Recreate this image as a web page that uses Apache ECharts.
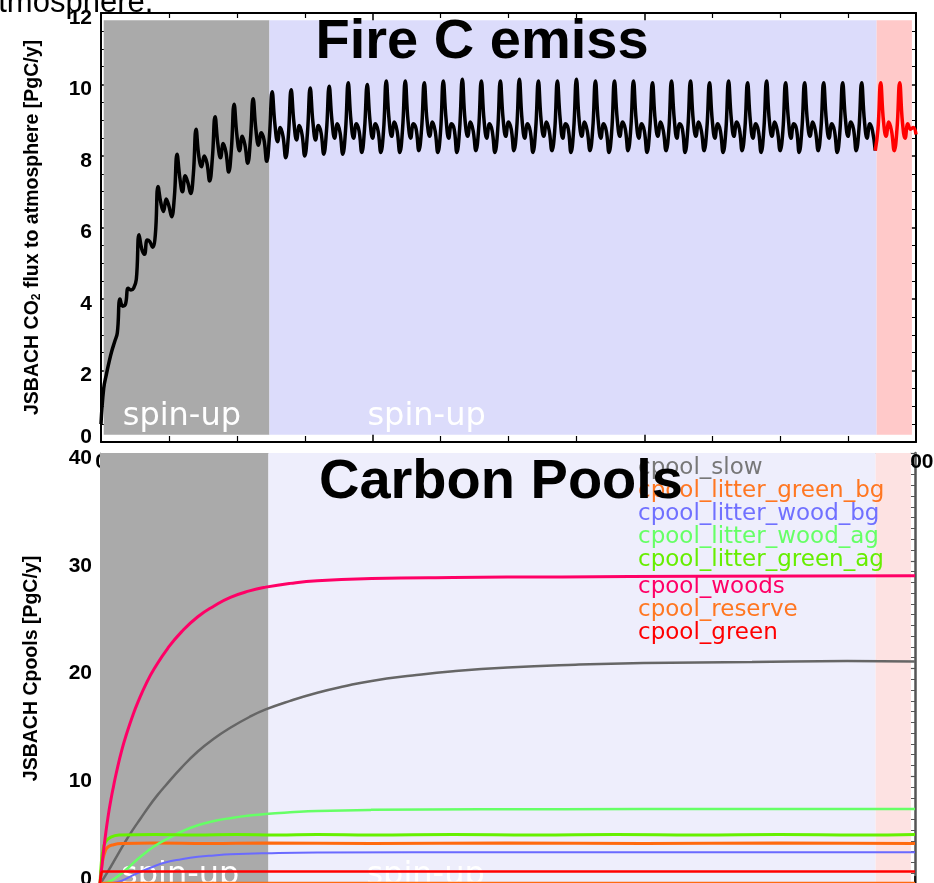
<!DOCTYPE html>
<html>
<head>
<meta charset="utf-8">
<style>
  html, body { margin: 0; padding: 0; background: #fff; }
  #chart { width: 934px; height: 883px; }
</style>
<script src="https://cdn.jsdelivr.net/npm/echarts@6/dist/echarts.min.js"></script>
</head>
<body>
<div id="chart"></div>
<script>
// ============================================
// DATA
// ============================================

// Fire C emission, one value per model year (0..300), PgC/y
const fireEmiss = [
    0.5, 1.5, 1.9, 2.25, 2.55, 2.8, 3.05,
    4.0, 3.8, 3.85, 4.3, 4.25, 4.3, 4.55,
    5.8, 5.4, 5.25, 5.65, 5.6, 5.45, 5.8,
    7.15, 6.7, 6.45, 6.8, 6.6, 6.3, 6.85,
    8.05, 7.4, 7.0, 7.45, 7.25, 6.95, 7.5,
    8.75, 8.0, 7.7, 8.0, 7.8, 7.3, 7.95,
    9.1, 8.35, 7.95, 8.35, 8.1, 7.55, 8.2,
    9.45, 8.6, 8.15, 8.55, 8.3, 7.8, 8.45,
    9.6, 8.75, 8.3, 8.65, 8.45, 7.85, 8.55,
    9.8, 8.9, 8.4, 8.8, 8.55, 7.95, 8.6,
    9.85, 8.95, 8.45, 8.85, 8.6, 8.0, 8.65,
    9.9, 8.95, 8.45, 8.85, 8.65, 8.05, 8.7,
    9.95, 9.0, 8.5, 8.9, 8.65, 8.05, 8.7,
    10.05, 9.0, 8.5, 8.9, 8.7, 8.1, 8.75,
    10.0, 9.0, 8.5, 8.9, 8.7, 8.1, 8.7,
    10.1, 9.05, 8.55, 8.95, 8.7, 8.1, 8.75,
    10.1, 9.0, 8.5, 8.9, 8.75, 8.15, 8.75,
    10.05, 9.0, 8.55, 8.95, 8.7, 8.1, 8.7,
    10.1, 9.05, 8.5, 8.9, 8.75, 8.1, 8.75,
    10.15, 9.0, 8.55, 8.95, 8.7, 8.15, 8.75,
    10.1, 9.0, 8.5, 8.9, 8.7, 8.1, 8.7,
    10.1, 9.05, 8.55, 8.95, 8.75, 8.15, 8.75,
    10.15, 9.0, 8.5, 8.9, 8.7, 8.1, 8.75,
    10.1, 9.0, 8.55, 8.95, 8.7, 8.15, 8.7,
    10.1, 9.05, 8.5, 8.9, 8.75, 8.1, 8.75,
    10.15, 9.0, 8.55, 8.95, 8.7, 8.15, 8.75,
    10.1, 9.0, 8.5, 8.9, 8.7, 8.1, 8.7,
    10.1, 9.05, 8.55, 8.95, 8.75, 8.15, 8.75,
    10.1, 9.0, 8.5, 8.9, 8.7, 8.1, 8.75,
    10.05, 9.0, 8.55, 8.95, 8.7, 8.15, 8.7,
    10.1, 9.05, 8.5, 8.9, 8.75, 8.1, 8.75,
    10.1, 9.0, 8.55, 8.95, 8.7, 8.15, 8.75,
    10.05, 9.0, 8.5, 8.9, 8.7, 8.1, 8.7,
    10.1, 9.05, 8.55, 8.95, 8.75, 8.15, 8.75,
    10.05, 9.0, 8.5, 8.9, 8.7, 8.1, 8.75,
    10.1, 9.0, 8.55, 8.95, 8.7, 8.15, 8.7,
    10.05, 9.05, 8.5, 8.9, 8.75, 8.1, 8.75,
    10.05, 9.0, 8.55, 8.95, 8.7, 8.15, 8.75,
    10.05, 9.0, 8.5, 8.9, 8.7, 8.1, 8.7,
    10.05, 9.05, 8.55, 8.95, 8.75, 8.15, 8.75,
    10.05, 9.0, 8.5, 8.9, 8.7, 8.15, 8.75,
    10.05, 9.0, 8.55, 8.95, 8.7, 8.15, 8.75,
    10.05, 8.95, 8.5, 8.9, 8.75, 8.8, 8.6
];
const transientStartYear = 285;

// shaded periods [from, to] in model years
const spinupGray = [1, 62];
const spinupBlue = [62, 285.5];
const transientPink = [285.5, 298.5];

// carbon pools, [year, PgC]
const poolSlow = [[0, 0], [3, 1.2], [6, 2.5], [9, 3.8], [12, 5.0], [15, 6.1], [18, 7.2], [21, 8.2], [24, 9.1], [30, 10.8], [36, 12.3], [42, 13.5], [48, 14.5], [55, 15.5], [61, 16.2], [70, 17.0], [80, 17.75], [90, 18.35], [100, 18.85], [115, 19.35], [130, 19.75], [150, 20.1], [175, 20.35], [200, 20.5], [240, 20.6], [275, 20.7], [300, 20.65]];
const poolLitterGreenBg = [[0, 0], [0.5, 1.3], [1, 2.2], [2, 3.1], [3, 3.45], [5, 3.65], [8, 3.75], [20, 3.8], [40, 3.75], [60, 3.8], [100, 3.75], [150, 3.8], [200, 3.75], [250, 3.8], [300, 3.75]];
const poolLitterWoodBg = [[0, 0], [4, 0.05], [8, 0.3], [12, 0.8], [16, 1.25], [20, 1.65], [24, 2.0], [30, 2.3], [36, 2.52], [42, 2.65], [48, 2.75], [61, 2.85], [80, 2.92], [150, 2.95], [300, 2.95]];
const poolLitterWoodAg = [[0, 0], [4, 0.3], [8, 1.0], [11, 1.65], [14, 2.35], [17, 2.95], [20, 3.5], [24, 4.1], [30, 4.85], [36, 5.45], [42, 5.85], [49, 6.15], [55, 6.35], [61, 6.5], [70, 6.65], [80, 6.78], [100, 6.88], [140, 6.93], [200, 6.95], [300, 6.95]];
const poolLitterGreenAg = [[0, 0], [0.5, 2.0], [1, 3.0], [2, 3.9], [4, 4.35], [7, 4.55], [20, 4.6], [35, 4.55], [50, 4.6], [65, 4.55], [80, 4.6], [100, 4.55], [130, 4.6], [160, 4.55], [190, 4.6], [220, 4.55], [250, 4.6], [280, 4.55], [300, 4.6]];
const poolWoods = [[0, 0], [1, 2.4], [2, 4.5], [3, 6.3], [4, 7.8], [5, 9.1], [6, 10.3], [8, 12.4], [10, 14.1], [12, 15.6], [14, 16.9], [17, 18.6], [20, 20.0], [25, 21.9], [30, 23.4], [36, 24.8], [42, 25.8], [48, 26.6], [55, 27.2], [61, 27.55], [70, 27.9], [80, 28.15], [100, 28.35], [130, 28.45], [170, 28.5], [220, 28.55], [300, 28.6]];
const poolReserve = [[0, 0], [1, 0.12], [100, 0.12], [200, 0.12], [300, 0.12]];
const poolGreen = [[0, 0], [0.5, 1.0], [1, 1.15], [100, 1.15], [200, 1.15], [300, 1.15]];

const poolNames = ['cpool_slow', 'cpool_litter_green_bg', 'cpool_litter_wood_bg', 'cpool_litter_wood_ag',
    'cpool_litter_green_ag', 'cpool_woods', 'cpool_reserve', 'cpool_green'];
const poolColors = ['#666666', '#ff6a10', '#6a6aff', '#66ff66', '#66f000', '#ff0066', '#ff6a10', '#ff0000'];
const poolLabelColors = ['#777777', '#ff7722', '#7070ff', '#66ff66', '#66ee00', '#ff0066', '#ff7722', '#ff0000'];
const poolData = [poolSlow, poolLitterGreenBg, poolLitterWoodBg, poolLitterWoodAg, poolLitterGreenAg, poolWoods, poolReserve, poolGreen];
const poolWidths = [2.5, 3, 2, 2.5, 3, 3, 2, 2.5];

// ============================================
// CHART
// ============================================

const chart = echarts.init(document.getElementById('chart'));

const labelFont = { fontFamily: 'Liberation Sans', fontSize: 21, fontWeight: 'bold', color: '#000' };
// y labels sit a little below their ticks, as in the original plot
const yLabelFont = Object.assign({ verticalAlign: 'top', lineHeight: 10 }, labelFont);
const spinLabel = { show: true, position: 'insideBottomLeft', color: '#ffffff', fontFamily: 'DejaVu Sans', fontSize: 32 };

const blackData = fireEmiss.slice(0, transientStartYear + 1).map((v, i) => [i, v]);
const redData = fireEmiss.slice(transientStartYear).map((v, i) => [i + transientStartYear, v]);

function frameAxis(extra) {
    return Object.assign({
        type: 'value',
        axisLine: { show: true, onZero: false, lineStyle: { color: '#000', width: 2 } },
        axisTick: { show: true, inside: true, length: 8, lineStyle: { color: '#000', width: 1.5 } },
        minorTick: { show: true, splitNumber: 4, length: 4, lineStyle: { color: '#000', width: 1 } },
        axisLabel: { show: false },
        splitLine: { show: false }
    }, extra);
}

const option = {
    animation: false,
    backgroundColor: '#fff',
    title: [
        { text: 'Fire C emiss', left: 482, top: 15, textAlign: 'center', padding: 0, z: 10,
          textStyle: { fontFamily: 'Liberation Sans', fontSize: 56, fontWeight: 'bold', color: '#000' } },
        { text: 'Carbon Pools', left: 501, top: 455, textAlign: 'center', padding: 0, z: 10,
          textStyle: { fontFamily: 'Liberation Sans', fontSize: 56, fontWeight: 'bold', color: '#000' } }
    ],
    graphic: [
        { type: 'text', x: -19, y: 19, silent: true,
          style: { text: 'atmosphere.', font: '31px "Liberation Sans"', fill: '#000', verticalAlign: 'bottom' } }
    ],
    legend: [
        { orient: 'vertical', left: 633, top: 457, padding: 0, itemGap: 0, itemWidth: 0, itemHeight: 0,
          icon: 'none', selectedMode: false, z: 5,
          textStyle: { fontFamily: 'DejaVu Sans', fontSize: 23, lineHeight: 22 },
          data: poolNames.slice(0, 5).map((n, i) => ({ name: n, textStyle: { color: poolLabelColors[i] } })) },
        { orient: 'vertical', left: 633, top: 576, padding: 0, itemGap: 0, itemWidth: 0, itemHeight: 0,
          icon: 'none', selectedMode: false, z: 5,
          textStyle: { fontFamily: 'DejaVu Sans', fontSize: 23, lineHeight: 22 },
          data: poolNames.slice(5).map((n, i) => ({ name: n, textStyle: { color: poolLabelColors[i + 5] } })) }
    ],
    grid: [
        { left: 101, right: 18, top: 13, height: 429, outerBoundsMode: 'none' },
        { left: 100, right: 19, top: 453, height: 431, outerBoundsMode: 'none' }
    ],
    xAxis: [
        frameAxis({ gridIndex: 0, position: 'bottom', min: 0, max: 300, interval: 100,
            axisTick: { show: true, inside: true, length: 10, lineStyle: { color: '#000', width: 1.5 } },
            minorTick: { show: true, splitNumber: 4, length: 6, lineStyle: { color: '#000', width: 1.2 } },
            axisLabel: Object.assign({ show: true, margin: 10 }, labelFont) }),
        frameAxis({ gridIndex: 0, position: 'top', min: 0, max: 300, interval: 100,
            minorTick: { show: true, splitNumber: 4, length: 5, lineStyle: { color: '#000', width: 1.2 } } }),
        frameAxis({ gridIndex: 1, position: 'bottom', min: 0, max: 300, interval: 100,
            axisLine: { show: true, onZero: false, lineStyle: { color: '#555', width: 2 } } }),
        frameAxis({ gridIndex: 1, position: 'top', min: 0, max: 300, interval: 100,
            axisLine: { show: true, onZero: false, lineStyle: { color: '#c4c4c4', width: 1 } },
            axisTick: { show: false }, minorTick: { show: false } })
    ],
    yAxis: [
        frameAxis({ gridIndex: 0, position: 'left', min: 0, max: 12, interval: 2,
            axisLabel: Object.assign({ show: true, margin: 9, verticalAlignMinLabel: 'bottom' }, yLabelFont),
            name: 'JSBACH CO{sub|2} flux to atmosphere [PgC/y]', nameLocation: 'middle', nameGap: 58,
            nameTextStyle: { fontFamily: 'Liberation Sans', fontSize: 19.5, fontWeight: 'bold', color: '#000',
                rich: { sub: { fontFamily: 'Liberation Sans', fontSize: 12, fontWeight: 'bold', color: '#000',
                    verticalAlign: 'bottom', padding: [8, 0, 0, 0] } } } }),
        frameAxis({ gridIndex: 0, position: 'right', min: 0, max: 12, interval: 2 }),
        frameAxis({ gridIndex: 1, position: 'left', min: 0, max: 40, interval: 10,
            axisLine: { show: true, onZero: false, lineStyle: { color: '#999', width: 1 } },
            axisTick: { show: true, inside: true, length: 4, lineStyle: { color: '#777', width: 1 } },
            minorTick: { show: true, splitNumber: 10, length: 3, lineStyle: { color: '#777', width: 1 } },
            axisLabel: Object.assign({ show: true, margin: 8, verticalAlignMinLabel: 'bottom' }, yLabelFont),
            name: 'JSBACH Cpools [PgC/y]', nameLocation: 'middle', nameGap: 58,
            nameTextStyle: { fontFamily: 'Liberation Sans', fontSize: 19.5, fontWeight: 'bold', color: '#000' } }),
        frameAxis({ gridIndex: 1, position: 'right', min: 0, max: 40, interval: 10,
            axisLine: { show: true, onZero: false, lineStyle: { color: '#555', width: 2.5 } },
            axisTick: { show: true, inside: true, length: 5, lineStyle: { color: '#555', width: 1.2 } },
            minorTick: { show: true, splitNumber: 10, length: 4, lineStyle: { color: '#555', width: 1 } } })
    ],
    series: [
        // shaded periods of the upper panel
        {
            type: 'line', xAxisIndex: 0, yAxisIndex: 0, data: [], z: 1, silent: true,
            markArea: {
                silent: true,
                data: [
                    [{ name: 'spin-up', xAxis: spinupGray[0], yAxis: 0.2, itemStyle: { color: '#aaaaaa', opacity: 1 },
                       label: Object.assign({}, spinLabel, { distance: 4, offset: [15, 2] }) },
                     { xAxis: spinupGray[1], yAxis: 11.8 }],
                    [{ name: 'spin-up', xAxis: spinupBlue[0], yAxis: 0.2, itemStyle: { color: '#dcdcfb', opacity: 1 },
                       label: Object.assign({}, spinLabel, { distance: 4, offset: [94, 2] }) },
                     { xAxis: spinupBlue[1], yAxis: 11.8 }],
                    [{ xAxis: transientPink[0], yAxis: 0.2, itemStyle: { color: '#ffc9c9', opacity: 1 }, label: { show: false } },
                     { xAxis: transientPink[1], yAxis: 11.8 }]
                ]
            }
        },
        {
            name: 'fire', type: 'line', xAxisIndex: 0, yAxisIndex: 0, data: blackData, z: 3,
            showSymbol: false, smooth: 0.45, lineStyle: { color: '#000', width: 3.5 }
        },
        {
            name: 'fire transient', type: 'line', xAxisIndex: 0, yAxisIndex: 0, data: redData, z: 3,
            showSymbol: false, smooth: 0.45, lineStyle: { color: '#ff0000', width: 3.5 }
        },
        // shaded periods of the lower panel
        {
            type: 'line', xAxisIndex: 2, yAxisIndex: 2, data: [], z: 1, silent: true,
            markArea: {
                silent: true,
                data: [
                    [{ name: 'spin-up', xAxis: 0, itemStyle: { color: '#aaaaaa', opacity: 1 },
                       label: Object.assign({}, spinLabel, { distance: 0, offset: [21, 8] }) },
                     { xAxis: spinupGray[1] }],
                    [{ name: 'spin-up', xAxis: spinupBlue[0], itemStyle: { color: '#eeeefc', opacity: 1 },
                       label: Object.assign({}, spinLabel, { distance: 0, offset: [98, 8] }) },
                     { xAxis: spinupBlue[1] }],
                    [{ xAxis: transientPink[0], itemStyle: { color: '#fde2e2', opacity: 1 }, label: { show: false } },
                     { xAxis: transientPink[1] }]
                ]
            }
        }
    ].concat(poolNames.map((name, i) => ({
        name: name, type: 'line', xAxisIndex: 2, yAxisIndex: 2, data: poolData[i], z: 3,
        showSymbol: false, smooth: 0.5,
        color: poolColors[i],
        lineStyle: { color: poolColors[i], width: poolWidths[i] }
    })))
};

chart.setOption(option);
</script>
</body>
</html>
